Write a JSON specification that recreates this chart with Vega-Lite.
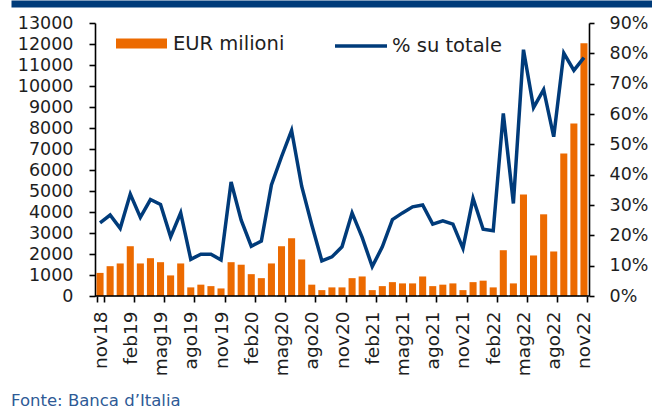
{
  "$schema": "https://vega.github.io/schema/vega-lite/v6.json",
  "width": 641,
  "height": 273,
  "autosize": {"type": "none"},
  "padding": {"left": 11, "top": 23, "right": 0, "bottom": 114},
  "background": "white",
  "config": {
    "view": {"stroke": null},
    "font": "DejaVu Sans",
    "legend": {"padding": 0},
    "axis": {"grid": false, "labelFont": "DejaVu Sans", "labelFontSize": 17.5, "labelColor": "#1e1e1e"}
  },
  "title": {
    "text": "Fonte: Banca d’Italia",
    "orient": "bottom",
    "anchor": "start",
    "frame": "group",
    "fontSize": 16.5,
    "fontWeight": "normal",
    "font": "DejaVu Sans",
    "color": "#2E5A96",
    "offset": 17
  },
  "data": {
    "values": [
      {"m": "nov18", "v": 1100, "p": 0.241},
      {"m": "dic18", "v": 1420, "p": 0.267},
      {"m": "gen19", "v": 1550, "p": 0.223},
      {"m": "feb19", "v": 2370, "p": 0.336},
      {"m": "mar19", "v": 1550, "p": 0.259},
      {"m": "apr19", "v": 1800, "p": 0.318},
      {"m": "mag19", "v": 1610, "p": 0.302},
      {"m": "giu19", "v": 980, "p": 0.195},
      {"m": "lug19", "v": 1550, "p": 0.274},
      {"m": "ago19", "v": 410, "p": 0.121},
      {"m": "set19", "v": 540, "p": 0.138},
      {"m": "ott19", "v": 470, "p": 0.138},
      {"m": "nov19", "v": 360, "p": 0.119},
      {"m": "dic19", "v": 1610, "p": 0.376},
      {"m": "gen20", "v": 1490, "p": 0.25},
      {"m": "feb20", "v": 1040, "p": 0.164},
      {"m": "mar20", "v": 850, "p": 0.181},
      {"m": "apr20", "v": 1550, "p": 0.366},
      {"m": "mag20", "v": 2370, "p": 0.459},
      {"m": "giu20", "v": 2750, "p": 0.546},
      {"m": "lug20", "v": 1740, "p": 0.362},
      {"m": "ago20", "v": 540, "p": 0.235},
      {"m": "set20", "v": 280, "p": 0.116},
      {"m": "ott20", "v": 410, "p": 0.129},
      {"m": "nov20", "v": 410, "p": 0.162},
      {"m": "dic20", "v": 850, "p": 0.274},
      {"m": "gen21", "v": 930, "p": 0.193},
      {"m": "feb21", "v": 280, "p": 0.097},
      {"m": "mar21", "v": 470, "p": 0.162},
      {"m": "apr21", "v": 660, "p": 0.252},
      {"m": "mag21", "v": 600, "p": 0.274},
      {"m": "giu21", "v": 600, "p": 0.294},
      {"m": "lug21", "v": 930, "p": 0.3},
      {"m": "ago21", "v": 470, "p": 0.237},
      {"m": "set21", "v": 540, "p": 0.248},
      {"m": "ott21", "v": 600, "p": 0.237},
      {"m": "nov21", "v": 280, "p": 0.157},
      {"m": "dic21", "v": 660, "p": 0.322},
      {"m": "gen22", "v": 730, "p": 0.22},
      {"m": "feb22", "v": 410, "p": 0.215},
      {"m": "mar22", "v": 2180, "p": 0.602},
      {"m": "apr22", "v": 600, "p": 0.305},
      {"m": "mag22", "v": 4830, "p": 0.812},
      {"m": "giu22", "v": 1930, "p": 0.621},
      {"m": "lug22", "v": 3890, "p": 0.68},
      {"m": "ago22", "v": 2120, "p": 0.525},
      {"m": "set22", "v": 6790, "p": 0.801},
      {"m": "ott22", "v": 8210, "p": 0.744},
      {"m": "nov22", "v": 12040, "p": 0.786}
    ]
  },
  "layer": [
    {
      "mark": {"type": "point", "opacity": 0},
      "encoding": {
        "x": {
          "field": "m",
          "type": "nominal",
          "sort": null,
          "axis": {
            "title": null,
            "orient": "top",
            "offset": 19.5,
            "domain": true,
            "domainColor": "#003B7A",
            "domainWidth": 7,
            "ticks": false,
            "labels": false,
            "values": []
          }
        },
        "y": {"datum": 0, "type": "quantitative", "scale": {"domain": [0, 1]}, "axis": null}
      }
    },
    {
      "mark": {"type": "bar", "fill": "#EC6A00"},
      "encoding": {
        "x": {
          "field": "m",
          "type": "nominal",
          "sort": null,
          "scale": {"type": "band", "range": [84, 578], "paddingInner": 0.3, "paddingOuter": 0.15},
          "axis": {
            "title": null,
            "orient": "bottom",
            "domain": false,
            "values": ["nov18", "feb19", "mag19", "ago19", "nov19", "feb20", "mag20", "ago20", "nov20", "feb21", "mag21", "ago21", "nov21", "feb22", "mag22", "ago22", "nov22"],
            "tickBand": "extent",
            "ticks": true,
            "tickColor": "#000000",
            "tickWidth": 1.6,
            "tickSize": 6,
            "labelAngle": -90,
            "labelFontSize": 18.5,
            "labelPadding": 9
          }
        },
        "y": {
          "field": "v",
          "type": "quantitative",
          "scale": {"domain": [0, 13000], "nice": false, "zero": true},
          "axis": {
            "title": null,
            "orient": "left",
            "offset": -84,
            "domain": true,
            "domainColor": "#000000",
            "domainWidth": 1.6,
            "ticks": true,
            "tickColor": "#000000",
            "tickWidth": 1.6,
            "values": [0, 1000, 2000, 3000, 4000, 5000, 6000, 7000, 8000, 9000, 10000, 11000, 12000, 13000],
            "format": "d",
            "tickSize": 6,
            "labelPadding": 16
          }
        },
        "fill": {
          "datum": "EUR milioni",
          "type": "nominal",
          "scale": {"range": ["#EC6A00"]},
          "legend": {
            "title": null,
            "orient": "none",
            "legendX": 105,
            "legendY": -5,
            "symbolType": "M-1,-0.2H1V0.2H-1Z",
            "symbolSize": 2601,
            "symbolStrokeWidth": 0,
            "labelFont": "DejaVu Sans",
            "labelFontSize": 19.5,
            "labelColor": "#1e1e1e",
            "labelOffset": 6
          }
        }
      }
    },
    {
      "mark": {"type": "tick", "orient": "horizontal", "color": "#000000", "thickness": 1.6, "size": 10.3, "opacity": 1},
      "encoding": {
        "x": {"field": "m", "type": "nominal", "sort": null, "scale": {"type": "band", "range": [84, 578], "paddingInner": 0, "paddingOuter": 0}, "axis": null},
        "y": {"datum": 0, "type": "quantitative", "scale": {"domain": [0, 13000], "nice": false}, "axis": null}
      }
    },
    {
      "mark": {"type": "line", "color": "#003B7A", "strokeWidth": 3.5, "strokeJoin": "miter"},
      "encoding": {
        "x": {
          "field": "m",
          "type": "nominal",
          "sort": null,
          "scale": {"type": "band", "range": [84, 578], "paddingInner": 0.3, "paddingOuter": 0.15},
          "axis": null
        },
        "y": {
          "field": "p",
          "type": "quantitative",
          "scale": {"domain": [0, 0.9], "nice": false},
          "axis": {
            "title": null,
            "orient": "right",
            "offset": -63,
            "domain": true,
            "domainColor": "#000000",
            "domainWidth": 1.6,
            "ticks": true,
            "tickColor": "#000000",
            "tickWidth": 1.6,
            "values": [0, 0.1, 0.2, 0.3, 0.4, 0.5, 0.6, 0.7, 0.8, 0.9],
            "format": ".0%",
            "tickSize": 5,
            "labelPadding": 15
          }
        },
        "stroke": {
          "datum": "% su totale",
          "type": "nominal",
          "scale": {"range": ["#003B7A"]},
          "legend": {
            "title": null,
            "orient": "none",
            "legendX": 322,
            "legendY": -5,
            "symbolType": "stroke",
            "symbolSize": 2704,
            "symbolStrokeWidth": 3.5,
            "labelFont": "DejaVu Sans",
            "labelFontSize": 19.5,
            "labelColor": "#1e1e1e",
            "labelOffset": 3
          }
        }
      }
    }
  ],
  "resolve": {"scale": {"x": "independent", "y": "independent"}, "axis": {"x": "independent", "y": "independent"}}
}
